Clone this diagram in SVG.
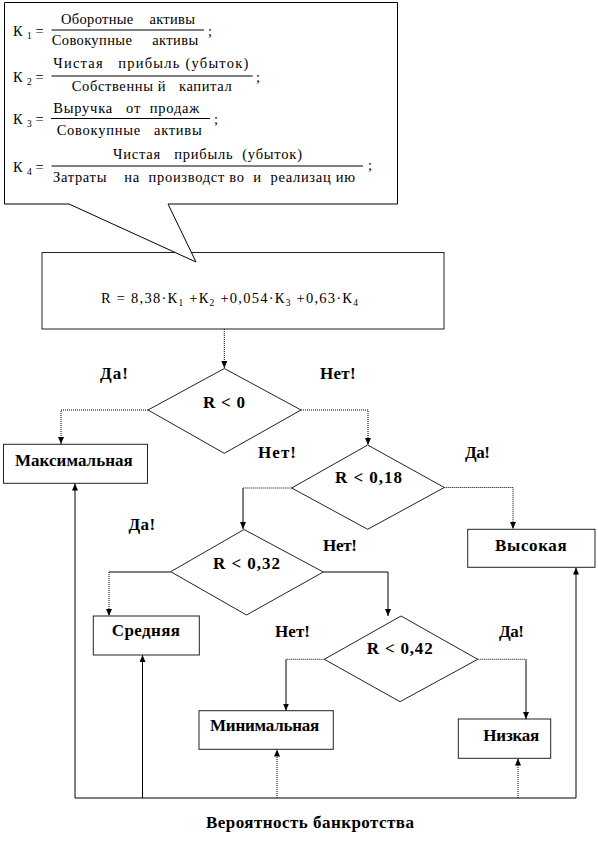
<svg xmlns="http://www.w3.org/2000/svg" width="598" height="849" viewBox="0 0 598 849" font-family="'Liberation Serif', 'Times New Roman', serif">
<style>
.f{font-family:'Liberation Serif','Times New Roman',serif;font-size:14.5px;fill:#000}
.s{font-family:'Liberation Serif','Times New Roman',serif;font-size:9.5px;fill:#000}
.b{font-family:'Liberation Serif','Times New Roman',serif;font-size:17px;font-weight:bold;fill:#000}
.box{fill:#fff;stroke:#222;stroke-width:1}
.dia{fill:#fff;stroke:#222;stroke-width:1}
.bar{stroke:#000;stroke-width:1}
.c{fill:none;stroke:#000;stroke-width:1}
.d{fill:none;stroke:#000;stroke-width:1;stroke-dasharray:1 1}
</style>
<defs>
<marker id="ah" markerWidth="7" markerHeight="6" refX="7" refY="3" orient="auto" markerUnits="userSpaceOnUse">
<path d="M0,0 L7,3 L0,6 z" fill="#000"/>
</marker>
</defs>

<g id="rbox">
<rect class="box" x="42" y="252.5" width="402" height="76.5"/>
<text class="f" x="101" y="303" textLength="257" lengthAdjust="spacing">R = 8,38·К<tspan class="s" dy="3">1</tspan><tspan dy="-3"> +К</tspan><tspan class="s" dy="3">2</tspan><tspan dy="-3"> +0,054·К</tspan><tspan class="s" dy="3">3</tspan><tspan dy="-3"> +0,63·К</tspan><tspan class="s" dy="3">4</tspan></text>
</g>

<g id="callout">
<path d="M4.5,2.5 H397.5 V204 H168 L196,262 L69,204 H4.5 Z" fill="#fff" stroke="#000" stroke-width="1"/>
<text class="f" x="13" y="35.5">К</text><text class="s" x="27" y="38.5">1</text><text class="f" x="35.5" y="35.5">=</text>
<text class="f" x="61" y="24" textLength="134" xml:space="preserve">Оборотные    активы</text>
<line class="bar" x1="51.5" y1="30" x2="204" y2="30"/>
<text class="f" x="51.7" y="45" textLength="146.5" xml:space="preserve">Совокупные     активы</text>
<text class="f" x="208" y="35.5">;</text>

<text class="f" x="13" y="82">К</text><text class="s" x="27" y="85">2</text><text class="f" x="35.5" y="82">=</text>
<text class="f" x="53.3" y="67.5" textLength="195" xml:space="preserve">Чистая   прибыль (убыток)</text>
<line class="bar" x1="51.5" y1="76" x2="252.7" y2="76"/>
<text class="f" x="71.7" y="91" textLength="160" xml:space="preserve">Собственны й   капитал</text>
<text class="f" x="256" y="82">;</text>

<text class="f" x="13" y="124">К</text><text class="s" x="27" y="127">3</text><text class="f" x="35.5" y="124">=</text>
<text class="f" x="53.3" y="113" textLength="146" xml:space="preserve">Выручка   от  продаж</text>
<line class="bar" x1="51" y1="118.5" x2="210" y2="118.5"/>
<text class="f" x="56.7" y="134.5" textLength="145" xml:space="preserve">Совокупные   активы</text>
<text class="f" x="214" y="124">;</text>

<text class="f" x="13" y="171.5">К</text><text class="s" x="27" y="174.5">4</text><text class="f" x="35.5" y="171.5">=</text>
<text class="f" x="113" y="158.5" textLength="189" xml:space="preserve">Чистая   прибыль  (убыток)</text>
<line class="bar" x1="51.5" y1="166" x2="363" y2="166"/>
<text class="f" x="53" y="181.5" textLength="302" xml:space="preserve">Затраты    на  производст во  и  реализац ию</text>
<text class="f" x="368" y="170">;</text>
</g>

<g id="d1">
<polygon class="dia" points="224.3,368.5 301,410 224.3,453.3 148,410"/>
<text class="b" x="203" y="408" textLength="42">R &lt; 0</text>
</g>
<g id="d2">
<polygon class="dia" points="367.7,445 444.3,487.5 367.7,529.3 291.7,488"/>
<text class="b" x="335" y="483" textLength="67">R &lt; 0,18</text>
</g>
<g id="d3">
<polygon class="dia" points="244,529.5 323.3,572 246.5,615 170.7,571.7"/>
<text class="b" x="213" y="569" textLength="67">R &lt; 0,32</text>
</g>
<g id="d4">
<polygon class="dia" points="401,616 477.7,659.3 400,701.7 324.3,659.3"/>
<text class="b" x="366.7" y="654" textLength="66">R &lt; 0,42</text>
</g>

<g id="n-max">
<rect class="box" x="3.5" y="444.3" width="144" height="39"/>
<text class="b" x="15" y="466" textLength="117.7">Максимальная</text>
</g>
<g id="n-high">
<rect class="box" x="467.7" y="529.3" width="127.3" height="38"/>
<text class="b" x="495" y="550.5" textLength="71.7">Высокая</text>
</g>
<g id="n-mid">
<rect class="box" x="93.3" y="616" width="106" height="39"/>
<text class="b" x="111.7" y="636" textLength="68.3">Средняя</text>
</g>
<g id="n-min">
<rect class="box" x="199" y="710.7" width="134.3" height="38.6"/>
<text class="b" x="210" y="731" textLength="109.3">Минимальная</text>
</g>
<g id="n-low">
<rect class="box" x="458.3" y="719" width="92.4" height="39.3"/>
<text class="b" x="483.3" y="741" textLength="56">Низкая</text>
</g>

<g id="labels">
<text class="b" x="100" y="379" textLength="28">Да!</text>
<text class="b" x="320" y="379" textLength="35.6">Нет!</text>
<text class="b" x="258" y="458" textLength="38">Нет!</text>
<text class="b" x="465" y="458" textLength="25">Да!</text>
<text class="b" x="128.4" y="530" textLength="26.8">Да!</text>
<text class="b" x="323" y="551" textLength="34">Нет!</text>
<text class="b" x="275" y="637" textLength="35">Нет!</text>
<text class="b" x="499" y="637" textLength="25">Да!</text>
<text class="b" x="206" y="828" textLength="208">Вероятность банкротства</text>
</g>

<g id="connectors">
<path class="d" d="M224.3,329 V368" marker-end="url(#ah)"/>
<path class="d" d="M148,410 H61 V444" marker-end="url(#ah)"/>
<path class="d" d="M301,410 H368 V445" marker-end="url(#ah)"/>
<path class="d" d="M291.7,488 H243"/>
<path class="c" d="M243,488 V529" marker-end="url(#ah)"/>
<path class="d" d="M444.3,487.5 H513 V529" marker-end="url(#ah)"/>
<path class="c" d="M170.7,572 H109"/>
<path class="d" d="M109,572 V616" marker-end="url(#ah)"/>
<path class="c" d="M323.3,572 H388 V616" marker-end="url(#ah)"/>
<path class="d" d="M324.3,659.3 H286"/>
<path class="c" d="M286,659.3 V710.5" marker-end="url(#ah)"/>
<path class="d" d="M477.7,659.3 H526"/>
<path class="c" d="M526,659.3 V719" marker-end="url(#ah)"/>
<path class="c" d="M75,798 H576"/>
<path class="c" d="M75,798 V483.5" marker-end="url(#ah)"/>
<path class="c" d="M142.5,798 V655" marker-end="url(#ah)"/>
<path class="d" d="M277,798 V749.5" marker-end="url(#ah)"/>
<path class="d" d="M518,798 V758.5" marker-end="url(#ah)"/>
<path class="c" d="M576,798 V567.5" marker-end="url(#ah)"/>
</g>
</svg>
